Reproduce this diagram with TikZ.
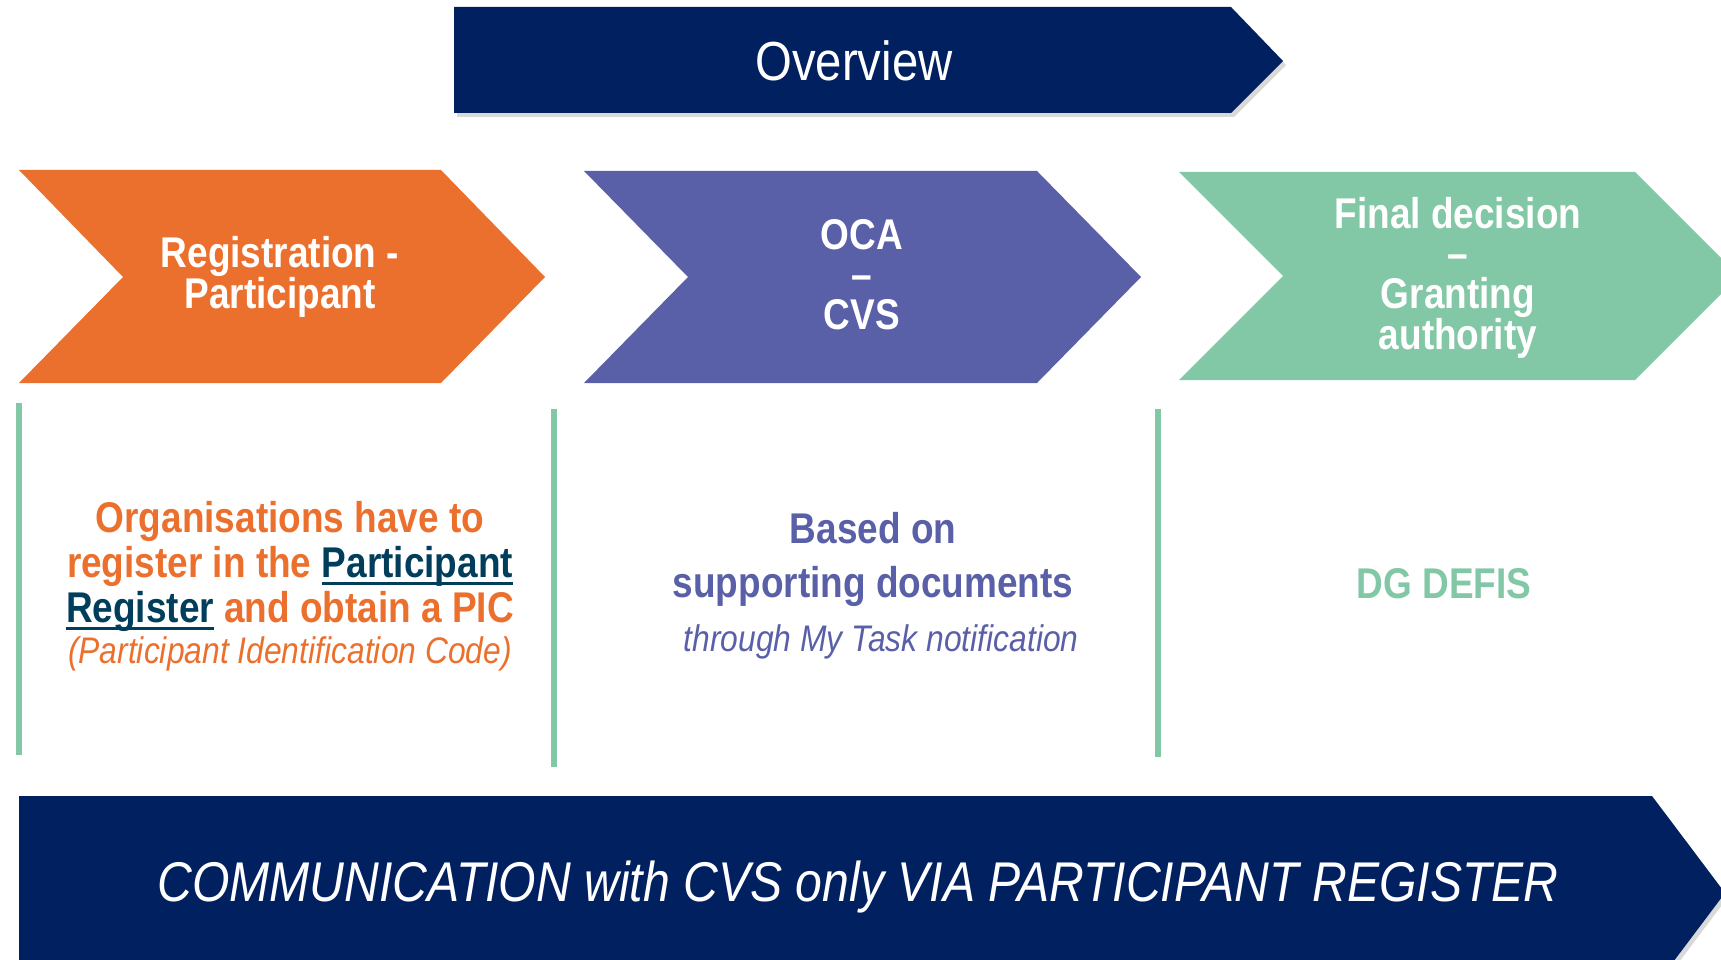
\documentclass[tikz,border=0pt]{standalone}
\usepackage{fontspec}
\setmainfont{Liberation Sans}[FakeStretch=0.86]
\usepackage{tikz}
\usetikzlibrary{shadows}

\definecolor{navy}{RGB}{0,32,96}
\definecolor{regorange}{RGB}{235,112,46}
\definecolor{ocapurple}{RGB}{90,96,168}
\definecolor{decgreen}{RGB}{130,199,166}
\definecolor{regblue}{RGB}{0,62,92}

\newcommand{\linktext}[1]{{\color{regblue}\setbox0=\hbox{#1}\rlap{\rule[-8pt]{\wd0}{3pt}}\box0}}

\begin{document}
\begin{tikzpicture}[x=1pt, y=-1pt,
    banner/.style={fill=navy, drop shadow={shadow xshift=3pt, shadow yshift=-4pt, opacity=0.3}},
    head/.style={text=white, font=\fontsize{43}{40}\selectfont\bfseries, align=center},
    body/.style={font=\fontsize{43}{45}\selectfont\bfseries, align=center},
    sepline/.style={draw=decgreen, line width=6pt}]

  \useasboundingbox (0,0) rectangle (1721,960);
  \clip (0,0) rectangle (1721,960);

  % top banner
  \path[banner] (454,7) -- (1231,7) -- (1283,61) -- (1231,113) -- (454,113) -- cycle;
  \node[text=white, font=\fontsize{55}{60}\selectfont, anchor=base] (overview) at (854,81) {Overview};

  % chevrons
  \fill[regorange] (19,170) -- (441,170) -- (545,277) -- (441,383) -- (19,383) -- (123,277) -- cycle;
  \fill[ocapurple] (584,171) -- (1037,171) -- (1141,277) -- (1037,383) -- (584,383) -- (688,277) -- cycle;
  \fill[decgreen] (1179,172) -- (1635,172) -- (1739,276) -- (1635,380) -- (1179,380) -- (1283,276) -- cycle;

  \node[head] (reg) at (280,277) {Registration -\\Participant};
  \node[head] (oca) at (862,275) {OCA\\–\\CVS};
  \node[head] (final) at (1458,278) {Final decision\\–\\Granting\\authority};

  % separators
  \draw[sepline] (19,403) -- (19,755);
  \draw[sepline] (554,409) -- (554,767);
  \draw[sepline] (1158,409) -- (1158,757);

  % column texts
  \node[body, text=regorange] (regtext) at (290,586)
    {Organisations have to\\register in the \linktext{Participant}\\\linktext{Register} and obtain a PIC\\[-4pt]
     {\fontsize{37}{40}\selectfont\mdseries\itshape (Participant Identification Code)}};
  \node[body, text=ocapurple, font=\fontsize{43}{54}\selectfont\bfseries] (ocatext) at (873,586)
    {Based on\\supporting documents\\[0pt]
     {\fontsize{37}{40}\selectfont\mdseries\itshape\hspace*{16pt}through My Task notification}};
  \node[text=decgreen, font=\fontsize{43}{45}\selectfont\bfseries, anchor=base] (dgtext) at (1444,598) {DG DEFIS};

  % bottom banner
  \path[banner] (19,796) -- (1652,796) -- (1725,893) -- (1652,990) -- (19,990) -- cycle;
  \node[text=white, font=\fontsize{56}{60}\selectfont\itshape, anchor=base] (comm) at (858,901)
    {COMMUNICATION with CVS only VIA PARTICIPANT REGISTER};

\end{tikzpicture}
\end{document}
